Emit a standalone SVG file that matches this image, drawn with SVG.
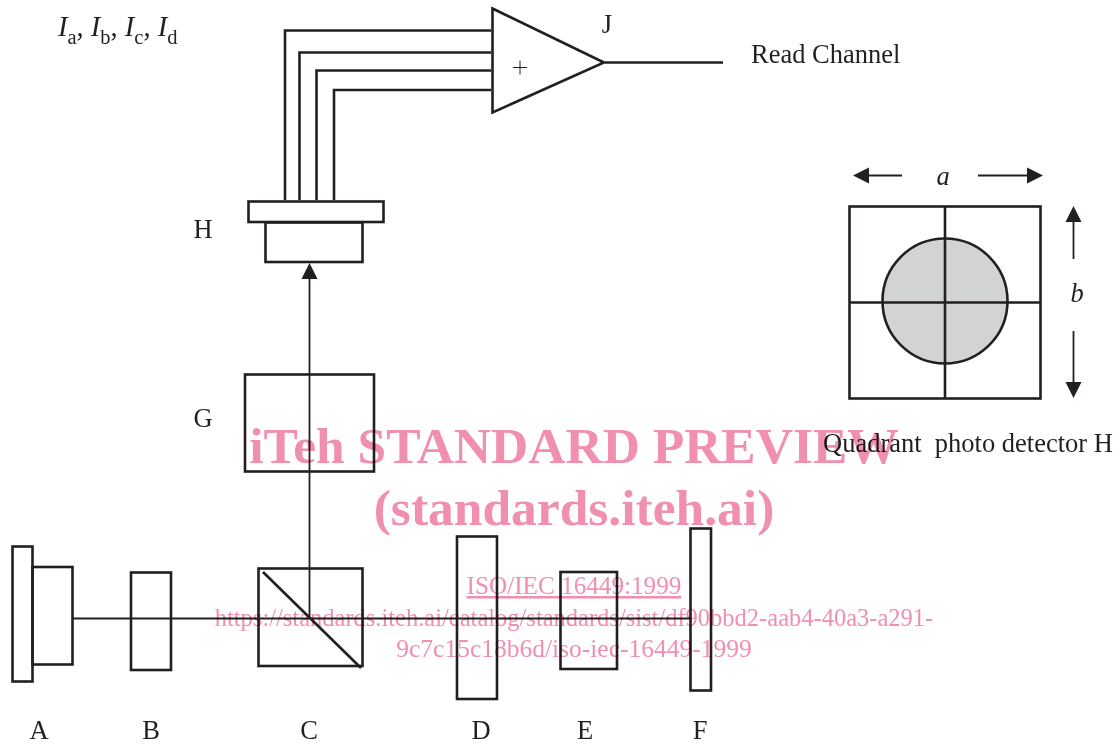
<svg xmlns="http://www.w3.org/2000/svg" width="1120" height="745" viewBox="0 0 1120 745">
<defs>
<style>
.s{fill:none;stroke:#231f20;stroke-width:2.6}
.w{fill:#fff;stroke:#231f20;stroke-width:2.6}
.c{fill:none;stroke:#231f20;stroke-width:1.8}
.h{fill:#231f20;stroke:none}
text{font-family:"Liberation Serif","Times New Roman",serif;fill:#231f20}
.l{font-size:26.500px}
.m{font-size:26.500px;text-anchor:middle}
.i{font-style:italic}
#watermark{mix-blend-mode:multiply}
#watermark text{fill:#f08fae;text-anchor:middle}
.b{font-weight:bold}
</style>
</defs>
<rect width="1120" height="745" fill="#fff"/>
<g id="connectors">
<path class="s" d="M285 200V30.500H491M299.500 200V52.500H491M316.500 200V70.500H491M334 200V90H491"/>
<path class="s" d="M605 62.500H723"/>
<path class="c" d="M73 618.500H690"/>
<path class="c" d="M309.500 618V275"/>
<polygon class="h" points="309.500,263 301.500,279 317.500,279"/>
</g>
<g id="node-a"><rect class="s" x="12.500" y="546.500" width="20" height="135"/><rect class="s" x="32.500" y="567" width="40" height="97.500"/><text class="m" x="39" y="739">A</text></g>
<g id="node-b"><rect class="s" x="131" y="572.500" width="40" height="97.500"/><text class="m" x="151" y="739">B</text></g>
<g id="node-c"><rect class="s" x="258.500" y="568.500" width="104" height="97.500"/><path class="s" d="M263 572L361 668"/><text class="m" x="309" y="739">C</text></g>
<g id="node-d"><rect class="s" x="457" y="536.500" width="40" height="162.500"/><text class="m" x="481" y="739">D</text></g>
<g id="node-e"><rect class="s" x="560.500" y="572" width="56.500" height="97"/><text class="m" x="585" y="739">E</text></g>
<g id="node-f"><rect class="s" x="690.500" y="528.500" width="20.500" height="162"/><text class="m" x="700" y="739">F</text></g>
<g id="node-g"><rect class="s" x="245" y="374.500" width="129" height="97"/><text class="m" x="203" y="427">G</text></g>
<g id="node-h"><rect class="w" x="248.500" y="201.500" width="135" height="20.500"/><rect class="s" x="265.500" y="222.500" width="97" height="39.500"/><text class="m" x="203" y="238">H</text></g>
<g id="node-j"><polygon class="w" points="492.500,8.500 604,62.500 492.500,112.500"/><path d="M513 67.500H527M520 60.500V74.500" stroke="#231f20" stroke-width="1" fill="none"/><text class="m" x="607" y="33">J</text></g>
<g id="labels">
<text x="58" y="36" font-size="28.500"><tspan class="i">I</tspan><tspan font-size="20.500" dy="8">a</tspan><tspan dy="-8">, </tspan><tspan class="i">I</tspan><tspan font-size="20.500" dy="8">b</tspan><tspan dy="-8">, </tspan><tspan class="i">I</tspan><tspan font-size="20.500" dy="8">c</tspan><tspan dy="-8">, </tspan><tspan class="i">I</tspan><tspan font-size="20.500" dy="8">d</tspan></text>
<text class="l" x="751" y="63">Read Channel</text>
<text class="l" x="823" y="452" xml:space="preserve">Quadrant  photo detector H</text>
</g>
<g id="detector">
<rect class="s" x="849.500" y="206.500" width="191" height="192"/>
<circle cx="945" cy="301" r="62.500" fill="#d1d3d4" stroke="#231f20" stroke-width="2.600"/>
<path class="s" d="M945 207V398M850 302.500H1040"/>
<path class="c" d="M865 175.500H902M978 175.500H1032M1073.500 218V259M1073.500 331V385"/>
<polygon class="h" points="853,175.500 869,167.500 869,183.500"/>
<polygon class="h" points="1043,175.500 1027,167.500 1027,183.500"/>
<polygon class="h" points="1073.500,206 1065.500,222 1081.500,222"/>
<polygon class="h" points="1073.500,398 1065.500,382 1081.500,382"/>
<text class="m i" x="943" y="185">a</text>
<text class="m i" x="1077" y="302">b</text>
</g>
<g id="watermark">
<text class="b" x="574" y="463" font-size="51.500">iTeh STANDARD PREVIEW</text>
<text class="b" x="574" y="525" font-size="51.500">(standards.iteh.ai)</text>
<text x="574" y="594" font-size="25.200" text-decoration="underline">ISO/IEC 16449:1999</text>
<text x="574" y="626" font-size="24.500">https://standards.iteh.ai/catalog/standards/sist/df90bbd2-aab4-40a3-a291-</text>
<text x="574" y="657" font-size="25.500">9c7c15c18b6d/iso-iec-16449-1999</text>
</g>
</svg>
